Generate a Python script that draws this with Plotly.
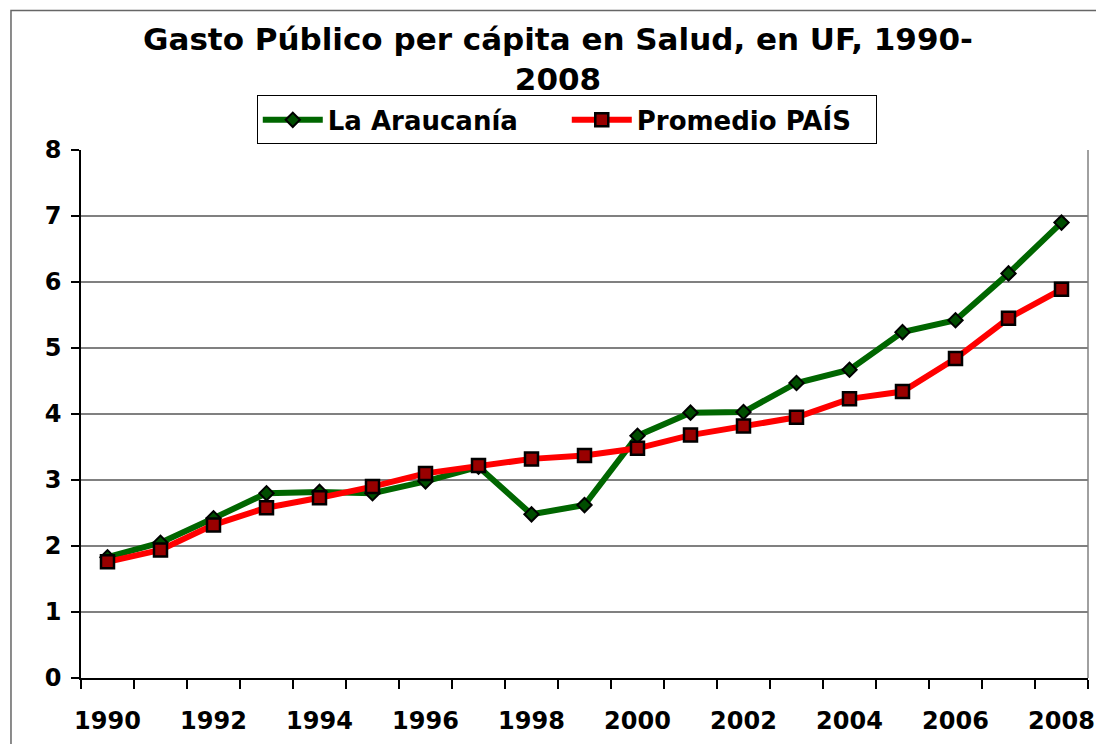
import plotly.graph_objects as go

years = list(range(1990, 2009))
araucania = [1.83, 2.05, 2.42, 2.80, 2.82, 2.80, 2.98, 3.20, 2.48, 2.62,
             3.67, 4.02, 4.03, 4.47, 4.67, 5.24, 5.42, 6.13, 6.90]
promedio = [1.76, 1.94, 2.32, 2.58, 2.73, 2.90, 3.10, 3.22, 3.32, 3.37,
            3.48, 3.68, 3.82, 3.95, 4.23, 4.34, 4.84, 5.45, 5.89]
xtick_vals = list(range(1990, 2009, 2))
xtick_text = [str(y) for y in xtick_vals]
ytick_vals = list(range(0, 9))

FONT = "DejaVu Sans"
W, H = 1096, 736  # page body has an 8px margin
L, R, T, B = 73, 9, 142, 62
PW, PH = W - L - R, H - T - B

fig = go.Figure()
fig.add_trace(go.Scatter(
    x=years, y=araucania, name="La Araucanía", mode="lines+markers",
    line=dict(color="#006600", width=6),
    marker=dict(symbol="diamond", size=11, color="#004d00",
                line=dict(color="black", width=2)),
))
fig.add_trace(go.Scatter(
    x=years, y=promedio, name="Promedio PAÍS", mode="lines+markers",
    line=dict(color="#FF0000", width=6),
    marker=dict(symbol="square", size=13, color="#990000",
                line=dict(color="black", width=2.5)),
))

fig.update_layout(
    width=W, height=H,
    margin=dict(l=L, r=R, t=T, b=B),
    paper_bgcolor="white", plot_bgcolor="white",
    font=dict(family=FONT, color="black"),
    title=dict(
        text="<b>Gasto Público per cápita en Salud, en UF, 1990-<br>2008</b>",
        x=(558 - 8) / W, xanchor="center", xref="container",
        y=1 - 42 / H, yanchor="middle", yref="container",
        font=dict(family=FONT, size=31, color="black"),
    ),
    showlegend=True,
    legend=dict(
        orientation="h", x=(258 - 81) / PW, y=1 + (150 - 95) / PH,
        xanchor="left", yanchor="top",
        bordercolor="black", borderwidth=1, bgcolor="white",
        font=dict(family=FONT, size=26, color="black", weight="bold"),
        itemwidth=60, entrywidth=234, entrywidthmode="pixels",
    ),
    xaxis=dict(
        range=[1989.5, 2008.5], tickmode="array", tickvals=xtick_vals,
        ticktext=xtick_text, ticks="", showgrid=False, zeroline=False,
        showline=True, linecolor="black", linewidth=2,
        tickfont=dict(family=FONT, size=24, color="black", weight="bold"),
        ticklabelstandoff=20,
        minor=dict(tick0=1989.5, dtick=1, ticks="outside", ticklen=9,
                   tickcolor="black", tickwidth=1.5, showgrid=False),
    ),
    yaxis=dict(
        range=[0, 8], tickmode="array", tickvals=ytick_vals,
        ticks="outside", ticklen=8, tickcolor="black", tickwidth=1.5,
        showgrid=True, gridcolor="#808080", gridwidth=1.5, zeroline=False,
        showline=True, linecolor="black", linewidth=1.5,
        tickfont=dict(family=FONT, size=24, color="black", weight="bold"),
        ticklabelstandoff=5,
    ),
    shapes=[
        dict(type="line", xref="paper", yref="paper", x0=1, x1=1, y0=0, y1=1,
             line=dict(color="#808080", width=1.5)),
        dict(type="rect", xref="paper", yref="paper",
             x0=(10.5 - 81) / PW, x1=1.2, y0=-0.3, y1=1 + (150 - 9.5) / PH,
             line=dict(color="#666666", width=1.5), fillcolor="rgba(0,0,0,0)",
             layer="below"),
    ],
)

fig.write_html("out.html")
